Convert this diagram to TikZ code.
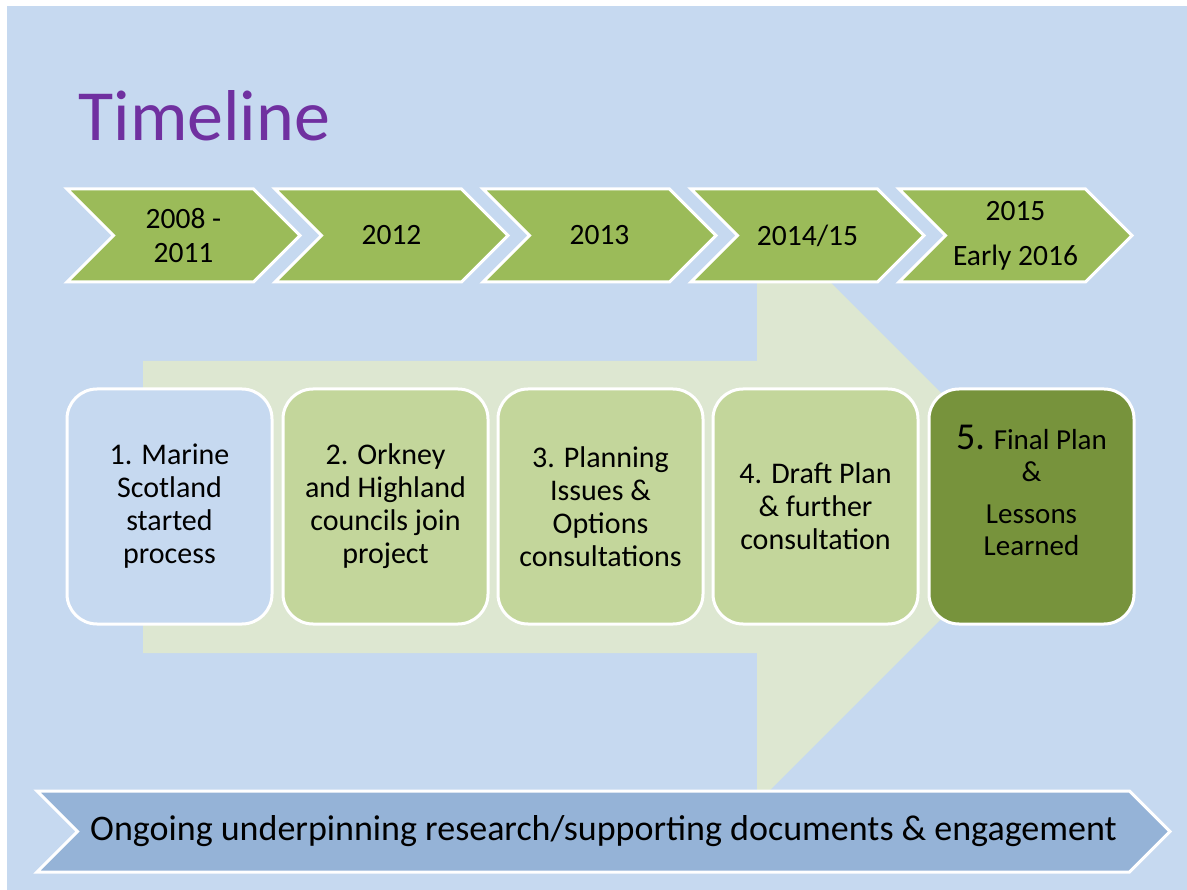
\documentclass[tikz,border=0pt]{standalone}
\usepackage{fontspec}
\setmainfont{Carlito}
\usetikzlibrary{shapes.symbols}
\definecolor{slideblue}{RGB}{198,217,240}
\definecolor{arrowgreen}{RGB}{221,231,209}
\definecolor{yeargreen}{RGB}{155,187,89}
\definecolor{stepgreen}{RGB}{195,214,155}
\definecolor{finalgreen}{RGB}{119,147,60}
\definecolor{bannerblue}{RGB}{149,179,215}
\definecolor{titlepurple}{RGB}{112,48,160}

\begin{document}
\begin{tikzpicture}
  [x=1pt,y=-1pt]
  \tikzstyle{chevron_style} = [signal, signal from=west, signal to=east, signal pointer angle=90, fill=yeargreen, draw=white, line width=3, minimum width=233, minimum height=93, inner sep=0, align=center, font=\fontsize{29.5}{34}\selectfont]
  \tikzstyle{step_style} = [rectangle, rounded corners=30, draw=white, line width=3, fill=stepgreen, minimum width=205, minimum height=235, align=center, font=\fontsize{30}{33}\selectfont]
  \tikzstyle{banner_style} = [signal, signal from=west, signal to=east, signal pointer angle=90, fill=bannerblue, draw=white, line width=3, minimum width=1133, minimum height=81, inner sep=0, font=\fontsize{36}{40}\selectfont]
  \useasboundingbox (0,0) rectangle (1187,890);
  \fill[white] (0,0) rectangle (1187,890);
  \fill[slideblue] (7,6) rectangle (1187,890);
  % wide arrow behind the steps
  \fill[arrowgreen] (143,361) -- (757,361) -- (757,209) -- (1054,506) -- (757,803) -- (757,653) -- (143,653) -- cycle;
  \node[anchor=base west, text=titlepurple, font=\fontsize{72}{86}\selectfont] (title) at (75,141) {Timeline};
  % years
  \node[chevron_style] (y1) at (183.5,235.5) {2008 -\\2011};
  \node[chevron_style] (y2) at (391.5,235.5) {2012};
  \node[chevron_style] (y3) at (599.5,235.5) {2013};
  \node[chevron_style] (y4) at (807.5,235.5) {2014/15};
  \node[chevron_style] (y5) at (1015.5,235.5) {2015\\[11pt]Early 2016};
  % steps
  \node[step_style, fill=slideblue] (s1) at (169.5,506.5) {1. Marine\\Scotland\\started\\process};
  \node[step_style] (s2) at (385.5,506.5) {2. Orkney\\and Highland\\councils join\\project};
  \node[step_style] (s3) at (600.5,506.5) {3. Planning\\Issues \&\\Options\\consultations};
  \node[step_style] (s4) at (815.5,506.5) {4. Draft Plan\\\& further\\consultation};
  \node[step_style, fill=finalgreen] (s5) at (1031.5,506.5) {};
  \node[align=center, font=\fontsize{29}{32}\selectfont] (t5) at (1031.5,490) {{\fontsize{38}{38}\selectfont 5.} Final Plan\\\&\\[10pt]Lessons\\Learned};
  % ongoing work
  \node[banner_style] (ongoing) at (603.5,831.5) {Ongoing underpinning research/supporting documents \& engagement};
\end{tikzpicture}
\end{document}
